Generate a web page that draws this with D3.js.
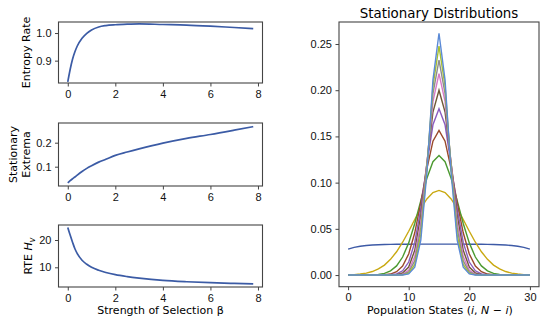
<!DOCTYPE html>
<html>
<head>
<meta charset="utf-8">
<script src="https://cdn.jsdelivr.net/npm/d3@7"></script>
<style>
  body { margin: 0; background: #fff; }
  svg { font-family: "DejaVu Sans", sans-serif; }
  .tick text { fill: #111; font-size: 11px; }
  .tick line { stroke: #444; }
  .domain { display: none; }
</style>
</head>
<body>
<div id="chart"></div>
<script>
// valores
const beta = [0, 0.1, 0.2, 0.3, 0.4, 0.6, 0.8, 1.0, 1.3, 1.6, 2.0, 2.5, 3, 4, 5, 6, 7, 7.8];
const entropyRate = [0.823, 0.868, 0.905, 0.932, 0.953, 0.981, 0.999, 1.011, 1.022, 1.027, 1.030, 1.032, 1.033, 1.031, 1.029, 1.025, 1.020, 1.016];
const statExtrema = [0.033, 0.042, 0.050, 0.057, 0.065, 0.080, 0.093, 0.104, 0.119, 0.131, 0.147, 0.161, 0.174, 0.198, 0.218, 0.234, 0.252, 0.267];
const rteHv = [24.6, 21.8, 19.2, 16.8, 15.0, 12.6, 11.1, 10.0, 8.9, 8.1, 7.3, 6.6, 6.05, 5.2, 4.7, 4.35, 4.1, 3.9];

const states = d3.range(0, 31);
const distBlue = [0.0280,0.0300,0.0312,0.0320,0.0325,0.0328,0.0330,0.0332,0.0333,0.0334,0.0334,0.0335,0.0335,0.0335,0.0335,0.0335,0.0335,0.0335,0.0335,0.0335,0.0334,0.0334,0.0333,0.0332,0.0330,0.0328,0.0325,0.0320,0.0312,0.0300,0.0280];
const distYellow = [0.0002,0.0005,0.0011,0.0021,0.0038,0.0066,0.0108,0.0170,0.0252,0.0355,0.0474,0.0601,0.0722,0.0824,0.0892,0.0916,0.0892,0.0824,0.0722,0.0601,0.0474,0.0355,0.0252,0.0170,0.0108,0.0066,0.0038,0.0021,0.0011,0.0005,0.0002];
const distGreen = [0,0,0,0.0001,0.0002,0.0007,0.0018,0.0045,0.0099,0.0195,0.0348,0.0558,0.0806,0.1048,0.1227,0.1293,0.1227,0.1048,0.0806,0.0558,0.0348,0.0195,0.0099,0.0045,0.0018,0.0007,0.0002,0.0001,0,0,0];
const distRed = [0,0,0,0,0,0.0001,0.0003,0.0011,0.0036,0.0098,0.0228,0.0457,0.0783,0.1150,0.1449,0.1565,0.1449,0.1150,0.0783,0.0457,0.0228,0.0098,0.0036,0.0011,0.0003,0.0001,0,0,0,0,0];
const distPurple = [0,0,0,0,0,0,0,0.0003,0.0012,0.0046,0.0141,0.0353,0.0720,0.1198,0.1626,0.1800,0.1626,0.1198,0.0720,0.0353,0.0141,0.0046,0.0012,0.0003,0,0,0,0,0,0,0];
const distBrown = [0,0,0,0,0,0,0,0.0001,0.0004,0.0022,0.0086,0.0268,0.0646,0.1210,0.1764,0.2000,0.1764,0.1210,0.0646,0.0268,0.0086,0.0022,0.0004,0.0001,0,0,0,0,0,0,0];
const distPink = [0,0,0,0,0,0,0,0,0.0002,0.0010,0.0052,0.0200,0.0569,0.1200,0.1877,0.2180,0.1877,0.1200,0.0569,0.0200,0.0052,0.0010,0.0002,0,0,0,0,0,0,0,0];
const distGray = [0,0,0,0,0,0,0,0,0.0001,0.0005,0.0033,0.0153,0.0504,0.1179,0.1962,0.2326,0.1962,0.1179,0.0504,0.0153,0.0033,0.0005,0.0001,0,0,0,0,0,0,0,0];
const distOlive = [0,0,0,0,0,0,0,0,0,0.0002,0.0020,0.0113,0.0437,0.1146,0.2044,0.2478,0.2044,0.1146,0.0437,0.0113,0.0020,0.0002,0,0,0,0,0,0,0,0,0];
const distCyan = [0,0,0,0,0,0,0,0,0,0.0001,0.0012,0.0084,0.0378,0.1107,0.2110,0.2616,0.2110,0.1107,0.0378,0.0084,0.0012,0.0001,0,0,0,0,0,0,0,0,0];

const distSeries = [distBlue, distYellow, distGreen, distRed, distPurple, distBrown, distPink, distGray, distOlive, distCyan];
const distColors = ["#3d5aa6", "#c9a912", "#4c9a30", "#9a4a2a", "#8a5cc0", "#705838", "#d77ac8", "#8c8c8c", "#a8c030", "#5b8ad6"];

const leftTicksX = [0, 2, 4, 6, 8];
const rightTicksX = [0, 10, 20, 30];
const rightTicksY = [0, 0.05, 0.10, 0.15, 0.20, 0.25];

const W = 550, H = 323;
const lineBlue = "#3b5ba5";

const svg = d3.select("#chart").append("svg")
    .attr("width", W).attr("height", H);

// escala x compartida por los tres paneles de la izquierda
const xLeft = d3.scaleLinear().domain([-0.39, 8.19]).range([58.5, 262.5]);

const panels = [
    { data: entropyRate, y0: 22, y1: 83, domain: [0.819, 1.040], ticks: [0.9, 1.0], fmt: d3.format(".1f") },
    { data: statExtrema, y0: 123, y1: 186, domain: [0.0196, 0.282], ticks: [0.1, 0.2], fmt: d3.format(".1f") },
    { data: rteHv, y0: 225, y1: 287, domain: [2.78, 25.5], ticks: [10, 20], fmt: d3.format("d") }
];

panels.forEach(p => {
    const y = d3.scaleLinear().domain(p.domain).range([p.y1, p.y0]);
    const g = svg.append("g");

    g.append("g").attr("transform", `translate(0,${p.y1})`)
        .call(d3.axisBottom(xLeft).tickValues(leftTicksX).tickSize(3.5).tickPadding(3.5));
    g.append("g").attr("transform", `translate(${xLeft.range()[0]},0)`)
        .call(d3.axisLeft(y).tickValues(p.ticks).tickFormat(p.fmt).tickSize(3.5).tickPadding(3.5));

    g.append("path")
        .datum(beta.map((b, i) => [b, p.data[i]]))
        .attr("fill", "none")
        .attr("stroke", lineBlue)
        .attr("stroke-width", 1.7)
        .attr("d", d3.line().x(d => xLeft(d[0])).y(d => y(d[1])).curve(d3.curveMonotoneX));

    g.append("rect")
        .attr("x", xLeft.range()[0]).attr("y", p.y0)
        .attr("width", xLeft.range()[1] - xLeft.range()[0]).attr("height", p.y1 - p.y0)
        .attr("fill", "none").attr("stroke", "#444").attr("stroke-width", 1.1);
});

// etiquetas del eje y
svg.append("text").attr("transform", "translate(30,52.5) rotate(-90)")
    .attr("text-anchor", "middle").attr("font-size", 11).text("Entropy Rate");
const se = svg.append("text").attr("transform", "translate(17,154.5) rotate(-90)")
    .attr("text-anchor", "middle").attr("font-size", 11);
se.append("tspan").attr("x", 0).attr("dy", 0).text("Stationary");
se.append("tspan").attr("x", 0).attr("dy", 13.4).text("Extrema");
const rte = svg.append("text").attr("transform", "translate(32,256) rotate(-90)")
    .attr("text-anchor", "middle").attr("font-size", 11);
rte.append("tspan").text("RTE ");
rte.append("tspan").attr("font-style", "italic").text("H");
rte.append("tspan").attr("font-style", "italic").attr("font-size", 8).attr("dy", 2.5).text("v");

svg.append("text").attr("x", 160.5).attr("y", 314)
    .attr("text-anchor", "middle").attr("font-size", 11).text("Strength of Selection β");

// panel derecho
const xR = d3.scaleLinear().domain([-1.5, 31.5]).range([339, 539]);
const yR = d3.scaleLinear().domain([-0.0126, 0.2738]).range([286.7, 22]);

svg.append("g").attr("transform", `translate(0,${yR.range()[0]})`)
    .call(d3.axisBottom(xR).tickValues(rightTicksX).tickSize(3.5).tickPadding(3.5));
svg.append("g").attr("transform", `translate(${xR.range()[0]},0)`)
    .call(d3.axisLeft(yR).tickValues(rightTicksY).tickFormat(d3.format(".2f")).tickSize(3.5).tickPadding(3.5));

const distLine = d3.line().x((d, i) => xR(states[i])).y(d => yR(d));
svg.append("g").selectAll("path")
    .data(distSeries)
    .join("path")
    .attr("fill", "none")
    .attr("stroke", (d, i) => distColors[i])
    .attr("stroke-width", 1.4)
    .attr("d", distLine);

svg.append("rect")
    .attr("x", 339).attr("y", 22).attr("width", 200).attr("height", 264.7)
    .attr("fill", "none").attr("stroke", "#444").attr("stroke-width", 1.1);

svg.append("text").attr("x", 439).attr("y", 18)
    .attr("text-anchor", "middle").attr("font-size", 13.4).text("Stationary Distributions");

const xl = svg.append("text").attr("x", 440).attr("y", 314)
    .attr("text-anchor", "middle").attr("font-size", 11);
xl.append("tspan").text("Population States (");
xl.append("tspan").attr("font-style", "italic").text("i");
xl.append("tspan").text(", ");
xl.append("tspan").attr("font-style", "italic").text("N");
xl.append("tspan").text(" − ");
xl.append("tspan").attr("font-style", "italic").text("i");
xl.append("tspan").text(")");
</script>
</body>
</html>
